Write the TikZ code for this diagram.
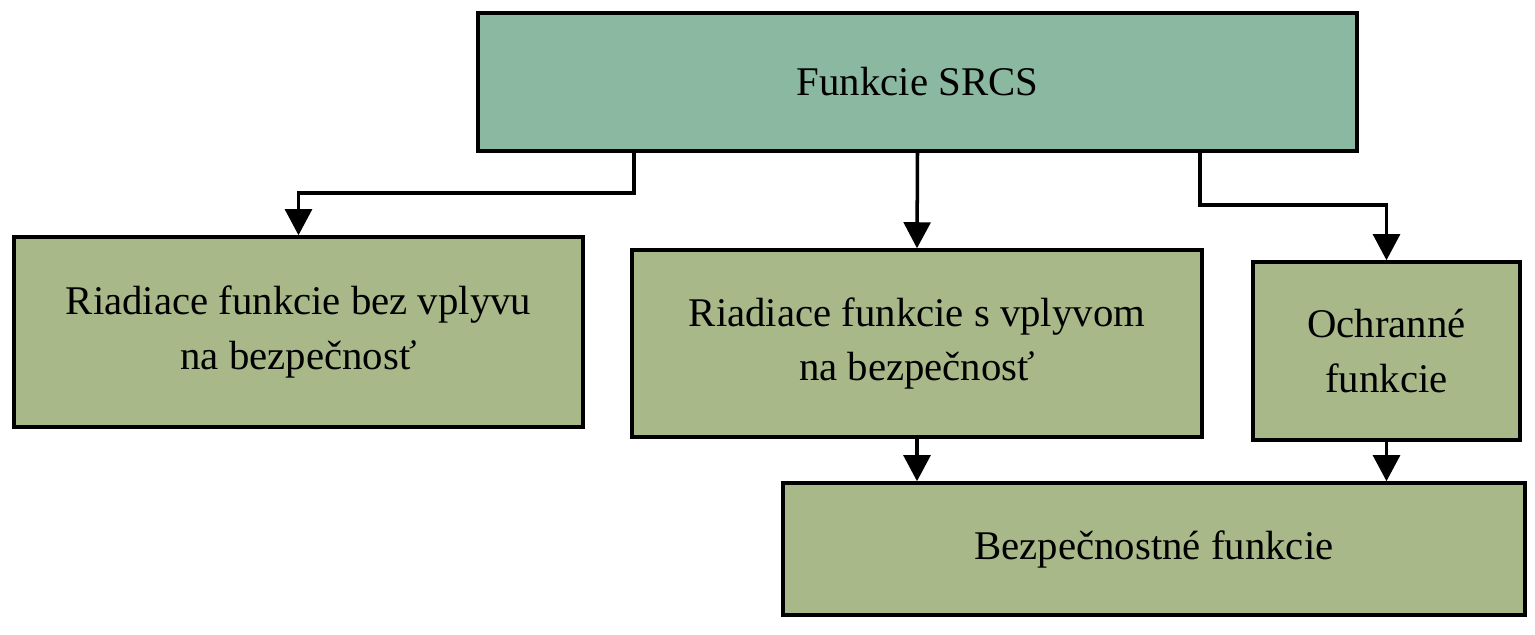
\documentclass[tikz,border=0pt]{standalone}
\usepackage{fontspec}
\setmainfont{Liberation Serif}
\usetikzlibrary{arrows.meta}
\definecolor{topgreen}{RGB}{138,184,160}
\definecolor{boxgreen}{RGB}{168,184,137}
\tikzset{
  fbox/.style={draw=black,line width=1pt,fill=boxgreen,align=center,inner sep=0pt,
    font=\fontsize{11.6}{15.6}\selectfont},
  farrow/.style={draw=black,line width=1pt,-{Triangle[width=7.6pt,length=7.4pt]}}
}
\begin{document}
\begin{tikzpicture}[y=-1cm]
\useasboundingbox (0,0) rectangle (15.35,6.35);

% boxes:
\node[fbox,fill=topgreen,minimum width=8.79cm,minimum height=1.38cm] (srcs) at (9.175,0.82) {Funkcie SRCS};
\node[fbox,minimum width=5.69cm,minimum height=1.90cm] (bez) at (2.985,3.32) {Riadiace funkcie bez vplyvu\\na bezpečnosť};
\node[fbox,minimum width=5.70cm,minimum height=1.87cm] (svpl) at (9.17,3.435) {Riadiace funkcie s vplyvom\\na bezpečnosť};
\node[fbox,minimum width=2.67cm,minimum height=1.78cm] (ochr) at (13.865,3.51) {Ochranné\\funkcie};
\node[fbox,minimum width=7.42cm,minimum height=1.32cm] (bezp) at (11.54,5.49) {Bezpečnostné funkcie};

% connectors:
\coordinate (kl) at (6.34,1.93);
\coordinate (kr) at (12.0,2.05);
\draw[farrow] (srcs.south -| kl) -- (kl) -| (bez.north);
\draw[farrow] (srcs.south) -- (svpl.north);
\draw[farrow] (srcs.south -| kr) -- (kr) -| (ochr.north);
\draw[farrow] (svpl.south) -- (svpl.south |- bezp.north);
\draw[farrow] (ochr.south) -- (ochr.south |- bezp.north);

\end{tikzpicture}
\end{document}
